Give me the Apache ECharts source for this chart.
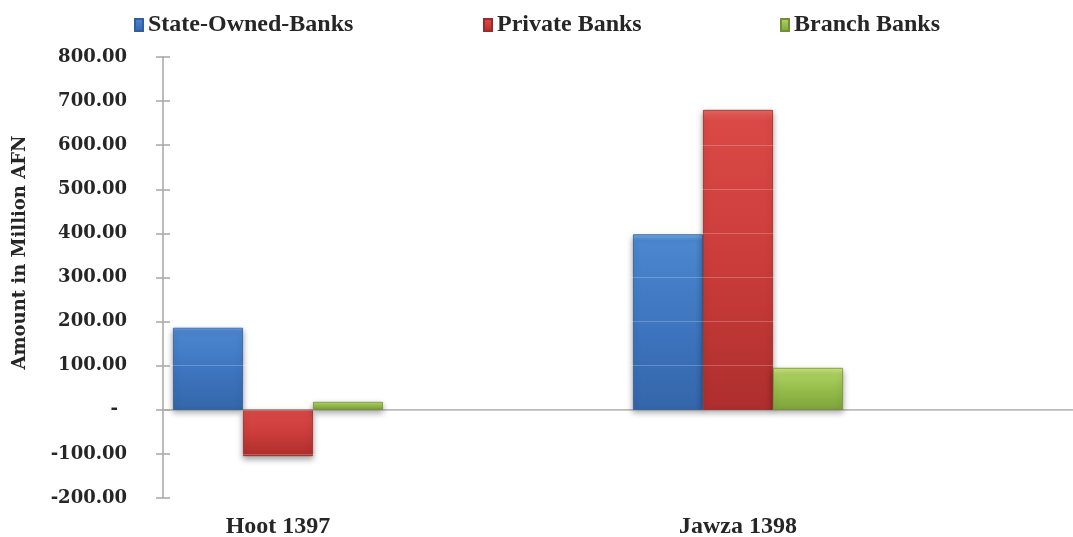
<!DOCTYPE html>
<html>
<head>
<meta charset="utf-8">
<script src="https://cdn.jsdelivr.net/npm/echarts@6/dist/echarts.min.js"></script>
<style>
html,body{margin:0;padding:0;background:#fff;overflow:hidden;}
#c{width:1073px;height:537px;}
</style>
</head>
<body>
<div id="c"></div>
<script>
// ---- data ----
const categories = ["Hoot 1397", "", "Jawza 1398", ""];
const seriesNames = ["State-Owned-Banks", "Private Banks", "Branch Banks"];
const stateOwned = [186, null, 398, null];
const privateBanks = [-105, null, 680, null];
const branchBanks = [18, null, 95, null];
const yMin = -200, yMax = 800, yStep = 100;
const yTitle = "Amount in Million AFN";

// ---- styles ----
const serif = '"DejaVu Serif", "Liberation Serif", serif';
const lib = '"Liberation Serif", "DejaVu Serif", serif';
const textColor = '#262626';
const axisGray = '#a6a6a6';

function grad(stops) {
  return new echarts.graphic.LinearGradient(0, 0, 0, 1,
    stops.map(c => ({ offset: c[0], color: c[1] })));
}
const blueFill = grad([[0, '#72aae6'], [0.035, '#4c87cf'], [0.5, '#3e76c0'], [1, '#3466aa']]);
const redFill = grad([[0, '#ea6663'], [0.035, '#da4946'], [0.5, '#cb3d3b'], [1, '#ad2f2d']]);
const greenFill = grad([[0, '#d0e682'], [0.15, '#abcf60'], [0.5, '#96be4b'], [1, '#7fa33b']]);

function bar(name, data, fill, border) {
  return {
    name: name, type: 'bar', data: data, xAxisIndex: 0, yAxisIndex: 0,
    barWidth: 70, barGap: '0%',
    itemStyle: {
      color: fill, borderColor: border, borderWidth: 0.8,
      shadowBlur: 6, shadowColor: 'rgba(0,0,0,0.35)', shadowOffsetY: 3
    }
  };
}

function legend(name, left) {
  return {
    data: [name], left: left, top: 8, itemWidth: 8, itemHeight: 12, itemGap: 6,
    icon: 'rect',
    textStyle: { fontFamily: lib, fontWeight: 'bold', fontSize: 24, color: textColor }
  };
}

const chart = echarts.init(document.getElementById('c'), null, { renderer: 'canvas' });
chart.setOption({
  animation: false,
  backgroundColor: '#ffffff',
  legend: [legend(seriesNames[0], 129), legend(seriesNames[1], 478), legend(seriesNames[2], 775)],
  grid: { left: 163, width: 920, top: 57, height: 441, containLabel: false, outerBoundsMode: 'none' },
  xAxis: [
    {
      type: 'category', data: categories, position: 'bottom',
      axisLine: { show: false, onZero: false }, axisTick: { show: false },
      axisLabel: { margin: 17, fontFamily: lib, fontWeight: 'bold', fontSize: 24, color: textColor },
      splitLine: { show: false }
    },
    {
      type: 'category', data: categories, position: 'bottom',
      axisLine: { show: true, onZero: true, lineStyle: { color: axisGray, width: 1.5 } },
      axisTick: { show: false }, axisLabel: { show: false }, splitLine: { show: false }
    }
  ],
  yAxis: [
    {
      type: 'value', min: yMin, max: yMax, interval: yStep, position: 'left',
      name: yTitle, nameLocation: 'middle', nameRotate: 90, nameGap: 134,
      nameTextStyle: { fontFamily: serif, fontWeight: 'bold', fontSize: 18, color: textColor, padding: [0, 0, 0, 50] },
      axisLine: { show: true, lineStyle: { color: axisGray, width: 1.5 } },
      axisTick: { show: true, length: 7, inside: false, lineStyle: { color: axisGray, width: 1.5 } },
      axisLabel: {
        margin: 36, fontFamily: serif, fontWeight: 'bold', fontSize: 18, color: textColor,
        formatter: v => v === 0 ? '-\u2002' : v.toFixed(2)
      },
      splitLine: { show: false }
    },
    {
      type: 'value', min: yMin, max: yMax, interval: yStep, position: 'left', z: 5,
      axisLine: { show: false },
      axisTick: { show: true, length: 7, inside: true, lineStyle: { color: axisGray, width: 1.5 } },
      axisLabel: { show: false },
      splitLine: { show: true, lineStyle: { color: 'rgba(255,255,255,0.22)', width: 1 } }
    }
  ],
  series: [
    bar(seriesNames[0], stateOwned, blueFill, '#2f5f9c'),
    bar(seriesNames[1], privateBanks, redFill, '#9c2a28'),
    bar(seriesNames[2], branchBanks, greenFill, '#738f35')
  ]
});
</script>
</body>
</html>
